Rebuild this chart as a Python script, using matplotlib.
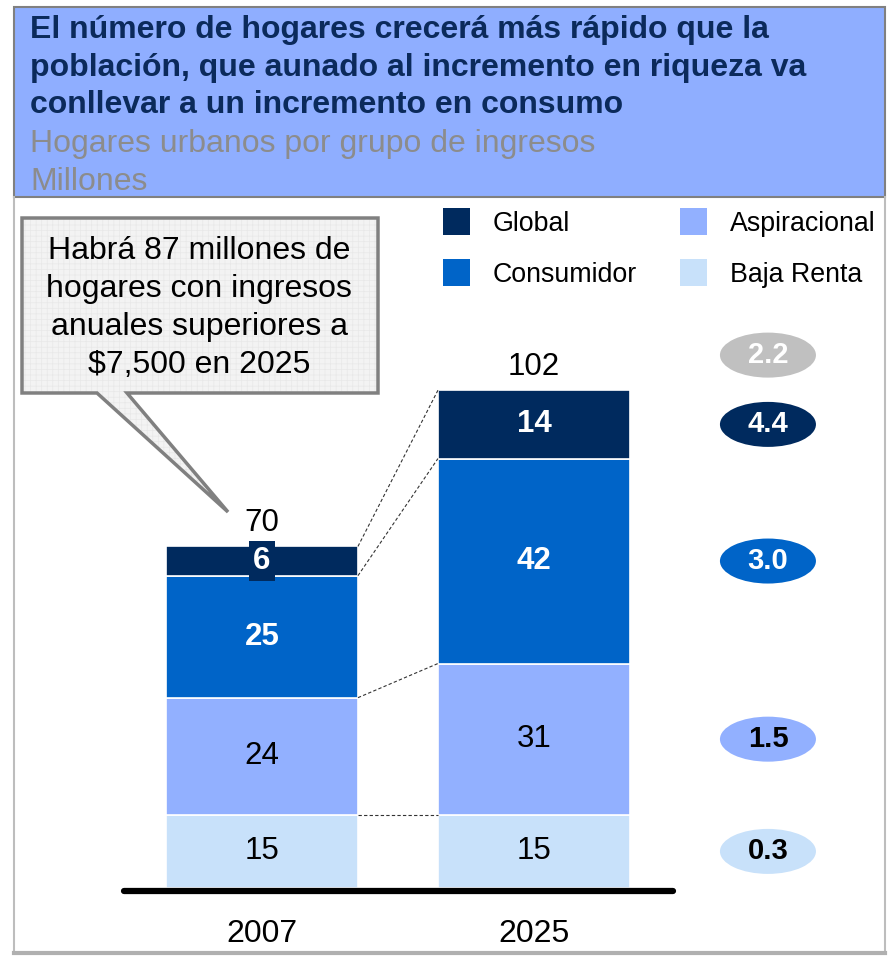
import numpy as np
import matplotlib
matplotlib.use("Agg")
import matplotlib.pyplot as plt
from matplotlib.patches import Rectangle, Ellipse, Polygon

plt.rcParams['font.family'] = ['Liberation Sans', 'DejaVu Sans']
plt.rcParams['hatch.linewidth'] = 0.5

# datos (millones de hogares urbanos)
years = ["2007", "2025"]
baja_renta = [15, 15]
aspiracional = [24, 31]
consumidor = [25, 42]
global_ = [6, 14]
totals = [70, 102]

# tasas de crecimiento (total y por segmento: baja, asp, cons, global)
cagr_total = "2.2"
cagr_seg = ["0.3", "1.5", "3.0", "4.4"]

seg_names = ["Baja Renta", "Aspiracional", "Consumidor", "Global"]
seg_vals = [baja_renta, aspiracional, consumidor, global_]
seg_colors = ["#C8E1FA", "#92B0FF", "#0064C8", "#002A5E"]
seg_txt = ["black", "black", "white", "white"]
seg_bold = [False, False, True, True]

HEADER = "#8FAEFF"
NAVY_TXT = "#0B2A5B"

title_lines = ["El número de hogares crecerá más rápido que la",
               "población, que aunado al incremento en riqueza va",
               "conllevar a un incremento en consumo"]
sub_lines = ["Hogares urbanos por grupo de ingresos", "Millones"]
callout_lines = ["Habrá 87 millones de", "hogares con ingresos",
                 "anuales superiores a", "$7,500 en 2025"]

W, H = 888, 956
fig = plt.figure(figsize=(W / 100, H / 100), dpi=100)

# capa de fondo en pixeles
ov = fig.add_axes([0, 0, 1, 1])
ov.set_xlim(0, W)
ov.set_ylim(H, 0)
ov.axis("off")

# marco del cuerpo
ov.plot([14, 14], [197, 952], color="#BDBDBD", lw=1.5)
ov.plot([885, 885], [197, 952], color="#BDBDBD", lw=1.5)
ov.plot([14, 885], [953, 953], color="#B0B0B0", lw=3)

# encabezado
ov.add_patch(Rectangle((14, 7), 871, 190, fc=HEADER, ec="#808080", lw=1.5))
for i, t in enumerate(title_lines):
    ov.text(30, 38 + i * 37.5, t, fontsize=23, fontweight="bold",
            color=NAVY_TXT, va="baseline", ha="left")
for i, t in enumerate(sub_lines):
    ov.text(30, 152 + i * 37.5, t, fontsize=23, color="#8C8C8C",
            va="baseline", ha="left")

# globo de texto
pts = [(22, 218), (378, 218), (378, 393), (127, 393), (228, 512),
       (97, 393), (22, 393)]
ov.add_patch(Polygon(pts, closed=True, fc="#F3F3F3", ec="none"))
ov.add_patch(Polygon(pts, closed=True, fc="none", ec="#E8E8E8", lw=0,
                     hatch="+++"))
ov.add_patch(Polygon(pts, closed=True, fc="none", ec="#808080", lw=2.5,
                     joinstyle="miter"))
for i, t in enumerate(callout_lines):
    ov.text(199, 259 + i * 38, t, fontsize=23, color="black",
            ha="center", va="baseline")

# leyenda
leg_pos = {"Global": (443, 208), "Consumidor": (443, 259),
           "Aspiracional": (680, 208), "Baja Renta": (680, 259)}
for name, col in zip(seg_names, seg_colors):
    x0, y0 = leg_pos[name]
    ov.add_patch(Rectangle((x0, y0), 27, 27, fc=col, ec="none"))
    ov.text(x0 + 50, y0 + 16, name, fontsize=19.3, va="center", ha="left")

# barras
PX = 4.88          # pixeles por millon
left_px, right_px, base_px, top_px = 124, 673, 888, 200
ax = fig.add_axes([left_px / W, (H - base_px) / H, (right_px - left_px) / W,
                   (base_px - top_px) / H])
ax.set_facecolor("none")
ax.axis("off")
xs = np.array([0, 1])
bw = 0.706
ax.set_xlim(-0.507, 1.511)
ax.set_ylim(0, (base_px - top_px) / PX)

bottom = np.zeros(2)
tops = []
for vals, col, tc, bold in zip(seg_vals, seg_colors, seg_txt, seg_bold):
    vals = np.array(vals, dtype=float)
    ax.bar(xs, vals, bw, bottom=bottom, color=col, edgecolor="white", lw=1.2)
    for x, v, b in zip(xs, vals, bottom):
        kw = dict(ha="center", va="center", fontsize=22.5, color=tc,
                  fontweight="bold" if bold else "normal")
        if col == seg_colors[-1] and v < 8:
            kw["bbox"] = dict(boxstyle="square,pad=0.15", fc=col, ec="none")
        ax.text(x, b + v / 2, f"{v:.0f}", **kw)
    bottom = bottom + vals
    tops.append(bottom.copy())

# lineas punteadas entre barras
for t in tops:
    ax.plot([xs[0] + bw / 2, xs[1] - bw / 2], [t[0], t[1]], ls=(0, (3, 2)),
            color="#333333", lw=0.8)

# totales
for x, tot in zip(xs, totals):
    ax.annotate(str(tot), (x, tot), xytext=(0, 17), textcoords="offset points",
                ha="center", va="center", fontsize=22.5)

# linea base y anos
ax.plot([-0.507, 1.511], [-0.6, -0.6], color="black", lw=4.5,
        solid_capstyle="round", clip_on=False)
for x, yr in zip(xs, years):
    ax.annotate(yr, (x, 0), xytext=(0, -33), textcoords="offset points",
                ha="center", va="center", fontsize=23)

# elipses de crecimiento
ex = 1.86
ew, eh = 96 / 272, 45 / PX
ell_txt = ["black", "black", "white", "white"]
for vals, lab, col, tc, t in zip(seg_vals, cagr_seg, seg_colors, ell_txt, tops):
    yc = t[1] - vals[1] / 2
    ax.add_patch(Ellipse((ex, yc), ew, eh, fc=col, ec="none", clip_on=False))
    ax.text(ex, yc, lab, ha="center", va="center", fontsize=21,
            fontweight="bold", color=tc, clip_on=False)
yc = totals[1] + 7.2
ax.add_patch(Ellipse((ex, yc), ew, eh, fc="#C0C0C0", ec="none", clip_on=False))
ax.text(ex, yc, cagr_total, ha="center", va="center", fontsize=21,
        fontweight="bold", color="white")

fig.savefig("out.png", dpi=100)
